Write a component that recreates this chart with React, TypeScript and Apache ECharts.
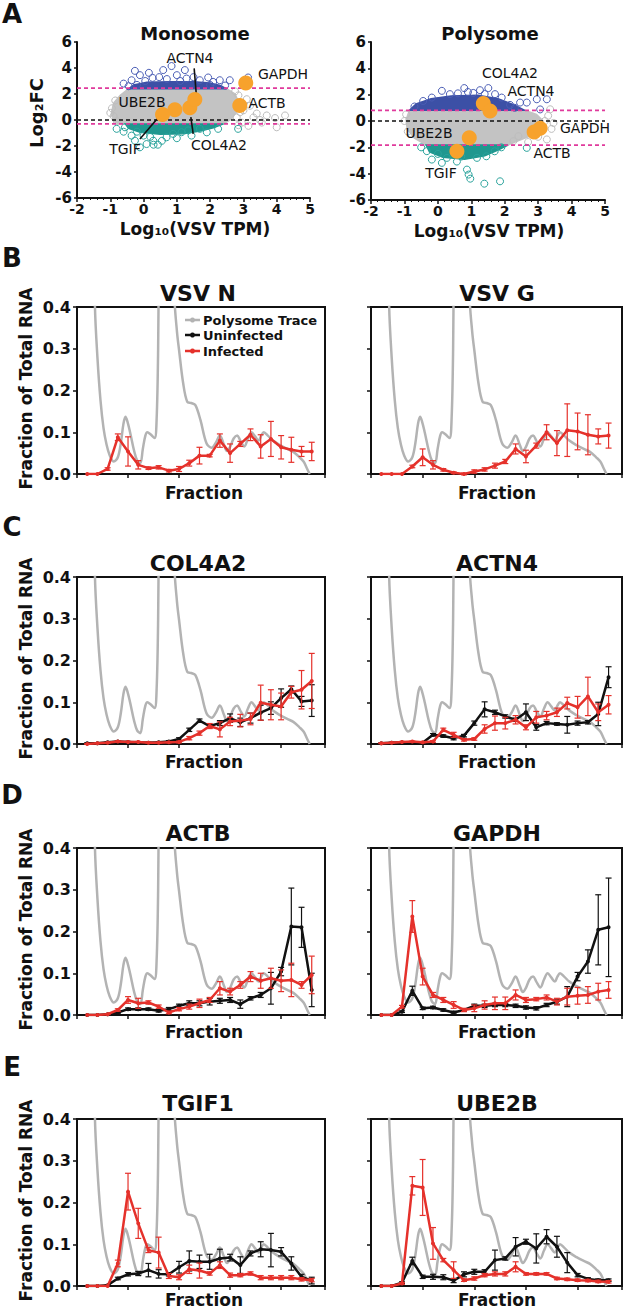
import React, { useEffect, useRef } from "react";
import * as echarts from "echarts";

const FONT = '"DejaVu Sans", sans-serif';
const RED = "#e5312b";
const BLACK = "#111111";
const GRAY_TRACE = "#b3b3b3";

// ---------- Panel A data ----------
const GENES = ["TGIF", "UBE2B", "COL4A2", "ACTN4", "ACTB", "GAPDH"];
const MONO_X = [0.57, 0.94, 1.39, 1.54, 2.89, 3.07];
const MONO_Y = [0.43, 0.79, 0.95, 1.57, 1.12, 2.85];
const POLY_X = [0.57, 0.94, 1.36, 1.56, 2.88, 3.06];
const POLY_Y = [-2.29, -1.27, 1.32, 0.76, -0.84, -0.56];

const MONO_THRESH = [2.45, -0.3];
const POLY_THRESH = [0.81, -1.83];

const MONO_GRAY_POLY = [[-0.9, -0.1], [-0.97, 0.5], [-0.9, 1.3], [-0.7, 1.9], [-0.45, 2.4], [2.5, 2.4], [2.75, 2.0], [2.85, 1.4], [2.8, 0.7], [2.65, 0.1], [2.4, -0.3], [-0.55, -0.3], [-0.8, -0.25]];
const MONO_BLUE_POLY = [[-0.45, 2.4], [-0.3, 2.7], [0.1, 2.9], [0.8, 2.95], [1.5, 2.95], [2.0, 2.85], [2.3, 2.65], [2.5, 2.4]];
const MONO_TEAL_POLY = [[-0.55, -0.3], [-0.45, -0.65], [-0.1, -0.95], [0.5, -1.1], [1.2, -1.05], [1.7, -0.85], [2.1, -0.6], [2.4, -0.3]];

const POLY_GRAY_POLY = [[-0.95, 0.1], [-0.85, 0.81], [2.6, 0.81], [2.95, 0.5], [3.15, 0.0], [3.1, -0.6], [2.8, -1.1], [2.4, -1.5], [2.1, -1.83], [-0.35, -1.83], [-0.7, -1.3], [-0.92, -0.6]];
const POLY_BLUE_POLY = [[-0.85, 0.81], [-0.65, 1.3], [-0.2, 1.7], [0.4, 1.9], [1.2, 1.95], [1.8, 1.7], [2.3, 1.2], [2.6, 0.81]];
const POLY_TEAL_POLY = [[-0.35, -1.83], [-0.25, -2.35], [0.15, -2.75], [0.8, -2.9], [1.4, -2.65], [1.8, -2.2], [2.1, -1.83]];

const MONO_BLUE = [[-0.26, 3.78], [0.16, 3.63], [0.59, 3.84], [0.84, 4.15], [0.27, 3.24], [1.0, 3.45], [-0.36, 3.06], [1.29, 3.19], [1.69, 3.06], [2.09, 2.93], [2.59, 3.06], [3.14, 3.27], [-0.6, 2.8], [-0.11, 3.45], [0.47, 3.3], [1.24, 3.84], [1.94, 3.27], [2.29, 3.06], [-0.45, 2.6], [2.45, 2.65], [0.05, 3.0], [0.7, 3.15], [1.5, 3.3], [1.1, 3.0], [2.0, 2.7], [-0.2, 2.7]];
const MONO_GRAY = [[2.9, 0.6], [3.0, 0.74], [3.3, 0.2], [3.7, 0.35], [4.0, -0.56], [4.25, 0.35], [3.5, 0.0], [3.1, 1.6], [2.85, 1.9], [2.95, -0.2], [3.15, -0.45], [2.8, 0.2], [3.4, 0.5], [3.95, 0.15], [-0.95, 0.9], [-0.9, 0.3], [-1.0, 0.55], [-0.85, 1.5], [-0.8, -0.1], [2.75, 2.2], [3.2, 1.1], [3.55, -0.2], [2.85, -0.4]];
const MONO_TEAL = [[-0.81, -0.68], [-0.56, -0.56], [-0.36, -1.2], [-0.2, -0.9], [-0.11, -2.1], [0.09, -1.85], [0.29, -1.59], [0.43, -1.9], [0.69, -1.33], [0.89, -1.07], [1.14, -0.94], [1.34, -0.8], [1.69, -0.68], [2.24, -0.68], [1.44, -1.2], [0.0, -1.2], [-0.26, -1.59], [2.84, -0.68], [0.2, -1.3], [0.55, -1.6], [1.9, -0.95], [-0.6, -0.9], [1.0, -1.4], [0.3, -1.9]];

const POLY_BLUE = [[0.12, 2.29], [0.79, 2.5], [1.06, 2.13], [1.26, 2.34], [1.51, 2.5], [1.71, 2.04], [2.16, 1.22], [2.46, 1.4], [2.66, 1.4], [2.96, 1.65], [3.06, 0.88], [3.26, 1.65], [-0.18, 1.78], [-0.44, 1.52], [0.36, 2.04], [1.91, 1.78], [0.6, 2.1], [-0.7, 1.1], [2.3, 1.0], [1.4, 2.05], [0.9, 2.2]];
const POLY_GRAY = [[3.36, 0.89], [3.2, 0.0], [3.46, -0.15], [2.41, -1.15], [2.26, -1.53], [3.26, -1.4], [-1.0, 0.0], [-0.95, 0.5], [3.3, 0.4], [3.0, -1.2], [2.7, -1.6], [-0.9, -0.8], [3.4, -0.6]];
const POLY_TEAL = [[-0.33, -2.29], [-0.18, -2.93], [0.12, -3.18], [0.87, -3.69], [0.92, -4.07], [0.97, -4.38], [1.39, -4.76], [1.86, -4.58], [1.45, -2.68], [0.57, -3.08], [0.27, -2.8], [1.17, -2.8], [2.66, -2.04], [1.9, -2.0], [-0.5, -2.0], [0.0, -2.5], [1.7, -2.3], [0.7, -2.7]];

const MONO_LEADERS = [
  [[1.52, 3.97], [1.59, 1.77]],
  [[-0.11, -1.46], [0.41, 0.09]],
  [[1.42, 0.22], [1.49, -1.07]],
];

// ---------- Panels B-E data ----------
const FRACTIONS = [1, 2, 3, 4, 5, 6, 7, 8, 9, 10, 11, 12, 13, 14, 15, 16, 17, 18, 19, 20, 21, 22, 23];

const TRACE_X = [1.2, 1.5, 1.76, 2.0, 2.3, 2.6, 2.9, 3.2, 3.6, 4.0, 4.3, 4.55, 4.75, 4.95, 5.2, 5.6, 5.9, 6.2, 6.45, 6.7, 6.9, 7.2, 7.6, 7.8, 7.95, 8.1, 8.6, 9.2, 9.45, 9.55, 9.8, 10.0, 10.4, 10.8, 11.2, 11.6, 12.1, 12.7, 13.2, 13.6, 14.0, 14.4, 14.7, 15.0, 15.35, 15.7, 16.0, 16.4, 16.75, 17.1, 17.45, 17.8, 18.05, 18.3, 18.7, 19.2, 19.9, 20.6, 21.2, 21.8, 22.2, 22.5, 22.8];
const TRACE_Y = [1.5, 0.8, 0.4, 0.28, 0.177, 0.11, 0.07, 0.045, 0.03, 0.04, 0.075, 0.12, 0.137, 0.125, 0.1, 0.055, 0.032, 0.026, 0.06, 0.092, 0.1, 0.095, 0.086, 0.13, 0.3, 0.7, 1.5, 1.5, 0.6, 0.42, 0.34, 0.297, 0.218, 0.173, 0.17, 0.165, 0.129, 0.073, 0.063, 0.075, 0.092, 0.07, 0.055, 0.065, 0.085, 0.092, 0.08, 0.066, 0.085, 0.1, 0.09, 0.08, 0.092, 0.1, 0.092, 0.08, 0.069, 0.06, 0.053, 0.04, 0.03, 0.015, 0.0];

const VSV_N_INF = [0, 0, 0.012, 0.088, 0.054, 0.022, 0.014, 0.016, 0.008, 0.012, 0.026, 0.044, 0.044, 0.08, 0.05, 0.072, 0.094, 0.066, 0.084, 0.064, 0.058, 0.054, 0.054];
const VSV_N_INF_ERR = [0, 0, 0.003, 0.008, 0.035, 0.01, 0.003, 0.004, 0.003, 0.006, 0.007, 0.02, 0.003, 0.016, 0.022, 0.006, 0.014, 0.028, 0.042, 0.028, 0.03, 0.012, 0.022];

const VSV_G_INF = [0, 0, 0, 0.018, 0.04, 0.022, 0.01, 0.003, 0, 0.006, 0.011, 0.02, 0.03, 0.06, 0.042, 0.068, 0.1, 0.074, 0.105, 0.102, 0.094, 0.09, 0.092];
const VSV_G_INF_ERR = [0, 0, 0, 0.003, 0.02, 0.01, 0.003, 0.002, 0.002, 0.004, 0.004, 0.006, 0.005, 0.012, 0.015, 0.006, 0.018, 0.03, 0.063, 0.044, 0.048, 0.018, 0.03];

const COL4A2_UNI = [0.002, 0.002, 0.004, 0.006, 0.005, 0.004, 0.003, 0.004, 0.006, 0.012, 0.034, 0.056, 0.043, 0.05, 0.062, 0.052, 0.062, 0.075, 0.086, 0.11, 0.131, 0.102, 0.104];
const COL4A2_UNI_ERR = [0.001, 0.001, 0.001, 0.001, 0.001, 0.001, 0.001, 0.001, 0.002, 0.003, 0.004, 0.004, 0.004, 0.006, 0.01, 0.01, 0.012, 0.018, 0.015, 0.022, 0.008, 0.012, 0.038];
const COL4A2_INF = [0, 0.002, 0.003, 0.006, 0.005, 0.005, 0.003, 0.003, 0.004, 0.005, 0.014, 0.026, 0.043, 0.035, 0.054, 0.056, 0.06, 0.099, 0.094, 0.09, 0.124, 0.13, 0.151];
const COL4A2_INF_ERR = [0.001, 0.001, 0.001, 0.001, 0.001, 0.001, 0.001, 0.001, 0.001, 0.002, 0.004, 0.005, 0.006, 0.018, 0.01, 0.015, 0.014, 0.042, 0.036, 0.032, 0.014, 0.046, 0.066];

const ACTN4_UNI = [0.002, 0.003, 0.004, 0.004, 0.003, 0.022, 0.019, 0.014, 0.02, 0.05, 0.083, 0.076, 0.066, 0.058, 0.076, 0.04, 0.05, 0.048, 0.046, 0.05, 0.052, 0.072, 0.16];
const ACTN4_UNI_ERR = [0.001, 0.001, 0.001, 0.001, 0.001, 0.003, 0.003, 0.004, 0.003, 0.005, 0.018, 0.005, 0.004, 0.004, 0.02, 0.007, 0.004, 0.003, 0.02, 0.005, 0.004, 0.028, 0.025];
const ACTN4_INF = [0.002, 0.003, 0.005, 0.006, 0.004, 0.006, 0.034, 0.022, 0.01, 0.012, 0.036, 0.05, 0.05, 0.058, 0.04, 0.064, 0.068, 0.076, 0.098, 0.088, 0.114, 0.076, 0.094];
const ACTN4_INF_ERR = [0.001, 0.001, 0.001, 0.001, 0.001, 0.002, 0.004, 0.006, 0.003, 0.003, 0.01, 0.017, 0.014, 0.01, 0.006, 0.014, 0.01, 0.01, 0.014, 0.026, 0.046, 0.02, 0.022];

const ACTB_UNI = [0, 0, 0.002, 0.006, 0.014, 0.014, 0.014, 0.01, 0.014, 0.022, 0.028, 0.028, 0.032, 0.034, 0.036, 0.026, 0.04, 0.048, 0.064, 0.104, 0.212, 0.21, 0.06];
const ACTB_UNI_ERR = [0, 0, 0.001, 0.002, 0.003, 0.003, 0.003, 0.003, 0.004, 0.004, 0.006, 0.006, 0.008, 0.006, 0.006, 0.01, 0.004, 0.006, 0.038, 0.01, 0.092, 0.048, 0.04];
const ACTB_INF = [0, 0, 0.002, 0.012, 0.036, 0.028, 0.03, 0.02, 0.006, 0.014, 0.02, 0.028, 0.036, 0.064, 0.056, 0.072, 0.092, 0.082, 0.088, 0.082, 0.084, 0.072, 0.096];
const ACTB_INF_ERR = [0, 0, 0.001, 0.003, 0.008, 0.012, 0.004, 0.004, 0.003, 0.004, 0.006, 0.01, 0.006, 0.016, 0.008, 0.008, 0.012, 0.018, 0.024, 0.026, 0.04, 0.008, 0.045];

const GAPDH_UNI = [0, 0, 0.008, 0.058, 0.016, 0.018, 0.012, 0.006, 0.012, 0.022, 0.022, 0.024, 0.024, 0.022, 0.018, 0.016, 0.024, 0.032, 0.044, 0.092, 0.128, 0.204, 0.21];
const GAPDH_UNI_ERR = [0, 0, 0.002, 0.011, 0.003, 0.003, 0.003, 0.003, 0.003, 0.004, 0.004, 0.004, 0.004, 0.004, 0.004, 0.004, 0.004, 0.006, 0.024, 0.01, 0.028, 0.084, 0.118];
const GAPDH_INF = [0, 0, 0.02, 0.236, 0.092, 0.048, 0.036, 0.024, 0.012, 0.016, 0.024, 0.028, 0.028, 0.048, 0.036, 0.038, 0.042, 0.032, 0.044, 0.046, 0.048, 0.056, 0.06];
const GAPDH_INF_ERR = [0, 0, 0.003, 0.038, 0.02, 0.006, 0.006, 0.008, 0.004, 0.008, 0.01, 0.015, 0.015, 0.012, 0.006, 0.004, 0.006, 0.008, 0.02, 0.02, 0.02, 0.02, 0.02];

const TGIF1_UNI = [0, 0, 0.002, 0.018, 0.028, 0.03, 0.038, 0.029, 0.028, 0.045, 0.06, 0.058, 0.058, 0.066, 0.068, 0.05, 0.078, 0.088, 0.086, 0.082, 0.054, 0.022, 0.013];
const TGIF1_UNI_ERR = [0, 0, 0.001, 0.003, 0.004, 0.005, 0.016, 0.01, 0.004, 0.014, 0.024, 0.016, 0.018, 0.022, 0.008, 0.02, 0.006, 0.018, 0.04, 0.01, 0.016, 0.006, 0.008];
const TGIF1_INF = [0, 0, 0, 0.054, 0.226, 0.15, 0.086, 0.08, 0.024, 0.021, 0.04, 0.037, 0.03, 0.05, 0.026, 0.026, 0.03, 0.02, 0.02, 0.02, 0.02, 0.016, 0.014];
const TGIF1_INF_ERR = [0, 0, 0, 0.008, 0.044, 0.036, 0.006, 0.037, 0.006, 0.006, 0.01, 0.018, 0.004, 0.008, 0.005, 0.004, 0.004, 0.005, 0.005, 0.005, 0.005, 0.004, 0.004];

const UBE2B_UNI = [0, 0, 0.008, 0.06, 0.022, 0.022, 0.021, 0.013, 0.028, 0.034, 0.034, 0.062, 0.066, 0.094, 0.106, 0.09, 0.118, 0.094, 0.056, 0.026, 0.017, 0.014, 0.014];
const UBE2B_UNI_ERR = [0, 0, 0.002, 0.009, 0.004, 0.006, 0.006, 0.005, 0.006, 0.006, 0.005, 0.024, 0.004, 0.022, 0.006, 0.035, 0.017, 0.025, 0.024, 0.004, 0.003, 0.003, 0.003];
const UBE2B_INF = [0, 0, 0.006, 0.24, 0.236, 0.102, 0.062, 0.038, 0.014, 0.018, 0.026, 0.029, 0.029, 0.046, 0.029, 0.029, 0.029, 0.018, 0.016, 0.014, 0.013, 0.011, 0.01];
const UBE2B_INF_ERR = [0, 0, 0.002, 0.022, 0.067, 0.038, 0.004, 0.02, 0.003, 0.004, 0.004, 0.005, 0.005, 0.012, 0.003, 0.003, 0.003, 0.003, 0.003, 0.003, 0.003, 0.003, 0.003];

const PANELS = [
  { title: "VSV N", uni: null, uniErr: null, inf: VSV_N_INF, infErr: VSV_N_INF_ERR },
  { title: "VSV G", uni: null, uniErr: null, inf: VSV_G_INF, infErr: VSV_G_INF_ERR },
  { title: "COL4A2", uni: COL4A2_UNI, uniErr: COL4A2_UNI_ERR, inf: COL4A2_INF, infErr: COL4A2_INF_ERR },
  { title: "ACTN4", uni: ACTN4_UNI, uniErr: ACTN4_UNI_ERR, inf: ACTN4_INF, infErr: ACTN4_INF_ERR },
  { title: "ACTB", uni: ACTB_UNI, uniErr: ACTB_UNI_ERR, inf: ACTB_INF, infErr: ACTB_INF_ERR },
  { title: "GAPDH", uni: GAPDH_UNI, uniErr: GAPDH_UNI_ERR, inf: GAPDH_INF, infErr: GAPDH_INF_ERR },
  { title: "TGIF1", uni: TGIF1_UNI, uniErr: TGIF1_UNI_ERR, inf: TGIF1_INF, infErr: TGIF1_INF_ERR },
  { title: "UBE2B", uni: UBE2B_UNI, uniErr: UBE2B_UNI_ERR, inf: UBE2B_INF, infErr: UBE2B_INF_ERR },
];

// ---------- layout ----------
const LEFT_X = 77;
const LEFT_W = 248;
const RIGHT_X = 371;
const RIGHT_W = 251;
const PLOT_H = 167;
const ROW_TOPS = [307, 577, 848, 1119];
const TITLE_Y = [293, 563, 833, 1103];
const FRACTION_Y = [493, 762, 1032, 1300];
const LETTERS = [["A", 14], ["B", 258], ["C", 527], ["D", 795], ["E", 1067]];

function txt(text: string, x: number, y: number, size: number, bold: boolean, align = "center", rot = 0) {
  return {
    type: "text",
    x,
    y,
    rotation: rot,
    silent: true,
    z: 100,
    style: {
      text,
      fill: "#111",
      fontSize: size,
      fontWeight: bold ? "bold" : "normal",
      fontFamily: FONT,
      align,
      verticalAlign: "middle",
    },
  };
}

const axisLineStyle = { show: true, onZero: false, lineStyle: { color: BLACK, width: 2 } };

function polySeries(g: number, pts: number[][], color: string) {
  return {
    type: "custom",
    xAxisIndex: g,
    yAxisIndex: g,
    silent: true,
    z: 1,
    data: [[0, 0]],
    renderItem: (_p: any, api: any) => ({
      type: "polygon",
      shape: { points: pts.map((p) => api.coord(p)) },
      style: { fill: color, stroke: color, lineWidth: 1.5 },
    }),
  };
}

function hollow(g: number, pts: number[][], color: string) {
  return {
    type: "scatter",
    xAxisIndex: g,
    yAxisIndex: g,
    silent: true,
    z: 2,
    symbol: "circle",
    symbolSize: 7,
    itemStyle: { color: "rgba(0,0,0,0)", borderColor: color, borderWidth: 1, opacity: 1 },
    data: pts,
  };
}

function hLine(g: number, v: number, color: string) {
  return {
    type: "line",
    xAxisIndex: g,
    yAxisIndex: g,
    silent: true,
    z: 3,
    symbol: "none",
    lineStyle: { color, width: 1.6, type: [4, 3] },
    data: [[-2, v], [5, v]],
  };
}

function errSeries(g: number, vals: number[], errs: number[], color: string, z: number) {
  return {
    type: "custom",
    xAxisIndex: g,
    yAxisIndex: g,
    silent: true,
    z,
    data: FRACTIONS.map((f, i) => [f, vals[i], errs[i]]),
    renderItem: (_p: any, api: any) => {
      const x = api.value(0);
      const y = api.value(1);
      const e = api.value(2);
      if (!(e > 0)) return { type: "group", children: [] };
      const lo = api.coord([x, y - e]);
      const hi = api.coord([x, y + e]);
      const st = { stroke: color, lineWidth: 1.2 };
      return {
        type: "group",
        children: [
          { type: "line", shape: { x1: lo[0], y1: lo[1], x2: hi[0], y2: hi[1] }, style: st },
          { type: "line", shape: { x1: lo[0] - 3, y1: lo[1], x2: lo[0] + 3, y2: lo[1] }, style: st },
          { type: "line", shape: { x1: hi[0] - 3, y1: hi[1], x2: hi[0] + 3, y2: hi[1] }, style: st },
        ],
      };
    },
  };
}

function buildOption() {
  const grids: any[] = [];
  const xAxes: any[] = [];
  const yAxes: any[] = [];
  const series: any[] = [];
  const graphics: any[] = [];

  // ----- Panel A -----
  grids.push({ left: 77, top: 42, width: 233, height: 156 });
  grids.push({ left: 371, top: 42, width: 234, height: 158 });
  for (let g = 0; g < 2; g++) {
    xAxes.push({
      gridIndex: g,
      type: "value",
      min: -2,
      max: 5,
      interval: 1,
      axisLine: axisLineStyle,
      axisTick: { show: true, length: 4, lineStyle: { color: BLACK, width: 1.5 } },
      minorTick: { show: true, splitNumber: 5, length: 2, lineStyle: { color: BLACK, width: 1 } },
      splitLine: { show: false },
      axisLabel: { fontFamily: FONT, fontWeight: "bold", fontSize: 14, color: BLACK, margin: 4 },
    });
    yAxes.push({
      gridIndex: g,
      type: "value",
      min: -6,
      max: 6,
      interval: 2,
      axisLine: axisLineStyle,
      axisTick: { show: true, length: 3, lineStyle: { color: BLACK, width: 1.5 } },
      splitLine: { show: false },
      axisLabel: { fontFamily: FONT, fontWeight: "bold", fontSize: 15, color: BLACK, margin: 5 },
    });
  }
  const BLUE = "#3c50a6";
  const TEAL = "#20978f";
  const GRAYC = "#c3c3c3";
  const ORANGE = "#f7a22c";

  series.push(polySeries(0, MONO_GRAY_POLY, GRAYC));
  series.push(polySeries(0, MONO_BLUE_POLY, BLUE));
  series.push(polySeries(0, MONO_TEAL_POLY, TEAL));
  series.push(hollow(0, MONO_GRAY, "#bdbdbd"));
  series.push(hollow(0, MONO_BLUE, "#4a5db5"));
  series.push(hollow(0, MONO_TEAL, "#2aa39c"));
  series.push(hLine(0, 0, BLACK));
  series.push(hLine(0, MONO_THRESH[0], "#e03a9c"));
  series.push(hLine(0, MONO_THRESH[1], "#e03a9c"));
  MONO_LEADERS.forEach((seg) =>
    series.push({
      type: "line",
      xAxisIndex: 0,
      yAxisIndex: 0,
      silent: true,
      z: 4,
      symbol: "none",
      lineStyle: { color: BLACK, width: 1.6 },
      data: seg,
    })
  );
  series.push({
    type: "scatter",
    xAxisIndex: 0,
    yAxisIndex: 0,
    z: 5,
    symbolSize: 15,
    itemStyle: { color: ORANGE, opacity: 1 },
    data: GENES.map((n, i) => ({ name: n, value: [MONO_X[i], MONO_Y[i]] })),
  });

  series.push(polySeries(1, POLY_GRAY_POLY, GRAYC));
  series.push(polySeries(1, POLY_BLUE_POLY, BLUE));
  series.push(polySeries(1, POLY_TEAL_POLY, TEAL));
  series.push(hollow(1, POLY_GRAY, "#bdbdbd"));
  series.push(hollow(1, POLY_BLUE, "#4a5db5"));
  series.push(hollow(1, POLY_TEAL, "#2aa39c"));
  series.push(hLine(1, 0, BLACK));
  series.push(hLine(1, POLY_THRESH[0], "#e03a9c"));
  series.push(hLine(1, POLY_THRESH[1], "#e03a9c"));
  series.push({
    type: "scatter",
    xAxisIndex: 1,
    yAxisIndex: 1,
    z: 5,
    symbolSize: 15,
    itemStyle: { color: ORANGE, opacity: 1 },
    data: GENES.map((n, i) => ({ name: n, value: [POLY_X[i], POLY_Y[i]] })),
  });

  graphics.push(txt("Monosome", 195, 33, 18, true));
  graphics.push(txt("Polysome", 490, 33, 18, true));
  graphics.push(txt("Log₁₀(VSV TPM)", 195, 229, 17, true));
  graphics.push(txt("Log₁₀(VSV TPM)", 489, 231, 17, true));
  graphics.push(txt("Log₂FC", 36, 113, 18, true, "center", Math.PI / 2));
  // gene labels monosome
  graphics.push(txt("ACTN4", 190, 58, 14, false));
  graphics.push(txt("GAPDH", 283, 74, 14, false));
  graphics.push(txt("UBE2B", 142, 102, 14, false));
  graphics.push(txt("ACTB", 267, 103, 14, false));
  graphics.push(txt("TGIF", 125, 149, 14, false));
  graphics.push(txt("COL4A2", 219, 145, 14, false));
  // gene labels polysome
  graphics.push(txt("COL4A2", 510, 73, 14, false));
  graphics.push(txt("ACTN4", 531, 91, 14, false));
  graphics.push(txt("UBE2B", 429, 133, 14, false));
  graphics.push(txt("GAPDH", 585, 128, 14, false));
  graphics.push(txt("ACTB", 552, 153, 14, false));
  graphics.push(txt("TGIF", 441, 173, 14, false));

  LETTERS.forEach(([l, y]) => graphics.push(txt(l as string, 12, y as number, 26, true)));

  // ----- Panels B-E -----
  PANELS.forEach((p, i) => {
    const row = Math.floor(i / 2);
    const col = i % 2;
    const g = 2 + i;
    const left = col ? RIGHT_X : LEFT_X;
    const width = col ? RIGHT_W : LEFT_W;
    const top = ROW_TOPS[row];
    grids.push({ left, top, width, height: PLOT_H, show: true, borderColor: BLACK, borderWidth: 2, backgroundColor: "rgba(0,0,0,0)" });
    xAxes.push({
      gridIndex: g,
      type: "value",
      min: 0,
      max: 24.3,
      interval: 5,
      axisLine: axisLineStyle,
      axisTick: { show: true, length: 4, lineStyle: { color: BLACK, width: 1.5 } },
      axisLabel: { show: false },
      splitLine: { show: false },
    });
    yAxes.push({
      gridIndex: g,
      type: "value",
      min: 0,
      max: 0.4,
      interval: 0.1,
      axisLine: axisLineStyle,
      axisTick: { show: true, length: 4, lineStyle: { color: BLACK, width: 1.5 } },
      splitLine: { show: false },
      axisLabel: {
        show: col === 0,
        formatter: (v: number) => v.toFixed(1),
        fontFamily: FONT,
        fontWeight: "bold",
        fontSize: 16,
        color: BLACK,
        margin: 6,
      },
    });
    series.push({
      type: "line",
      name: "Polysome Trace",
      xAxisIndex: g,
      yAxisIndex: g,
      silent: true,
      clip: true,
      z: 2,
      smooth: 0.35,
      symbol: "none",
      lineStyle: { color: GRAY_TRACE, width: 2.5 },
      data: TRACE_X.map((x, k) => [x, TRACE_Y[k]]),
    });
    if (p.uni) {
      series.push(errSeries(g, p.uni, p.uniErr as number[], BLACK, 3));
      series.push({
        type: "line",
        name: "Uninfected",
        xAxisIndex: g,
        yAxisIndex: g,
        z: 4,
        symbol: "circle",
        symbolSize: 4,
        itemStyle: { color: BLACK },
        lineStyle: { color: BLACK, width: 2.5 },
        data: FRACTIONS.map((f, k) => [f, (p.uni as number[])[k]]),
      });
    }
    series.push(errSeries(g, p.inf, p.infErr, RED, 5));
    series.push({
      type: "line",
      name: "Infected",
      xAxisIndex: g,
      yAxisIndex: g,
      z: 6,
      symbol: "circle",
      symbolSize: 4,
      itemStyle: { color: RED },
      lineStyle: { color: RED, width: 2.5 },
      data: FRACTIONS.map((f, k) => [f, p.inf[k]]),
    });

    graphics.push(txt(p.title, col ? 497 : 198, TITLE_Y[row], 22, true));
    graphics.push(txt("Fraction", col ? 497 : 204, FRACTION_Y[row], 17, true));
    if (col === 0) graphics.push(txt("Fraction of Total RNA", 26, top + PLOT_H / 2 - 2, 17, true, "center", Math.PI / 2));
  });

  // legend (panel B left)
  const LEG = [
    ["Polysome Trace", GRAY_TRACE, 320],
    ["Uninfected", BLACK, 335],
    ["Infected", RED, 351],
  ];
  LEG.forEach(([name, color, y]) => {
    graphics.push({ type: "line", silent: true, z: 100, shape: { x1: 185, y1: y, x2: 200, y2: y }, style: { stroke: color, lineWidth: 2.5 } });
    graphics.push({ type: "circle", silent: true, z: 100, shape: { cx: 192.5, cy: y, r: 2.5 }, style: { fill: color } });
    graphics.push(txt(name as string, 203, y as number, 13, true, "left"));
  });

  return {
    animation: false,
    backgroundColor: "#ffffff",
    grid: grids,
    xAxis: xAxes,
    yAxis: yAxes,
    series,
    graphic: graphics,
  };
}

export default function App() {
  const ref = useRef<HTMLDivElement>(null);
  useEffect(() => {
    const chart = echarts.init(ref.current as HTMLDivElement, null, { renderer: "svg" });
    chart.setOption(buildOption() as any);
    return () => chart.dispose();
  }, []);
  return (
    <div
      ref={ref}
      style={{ position: "absolute", left: 0, top: 0, width: 624, height: 1310, background: "#fff" }}
    />
  );
}
